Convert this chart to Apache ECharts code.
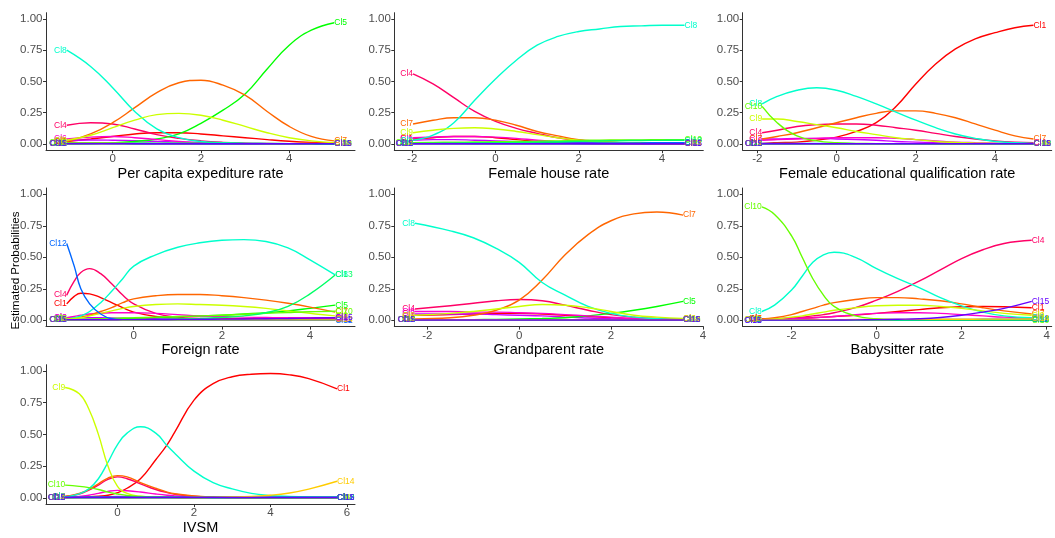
<!DOCTYPE html>
<html><head><meta charset="utf-8">
<script src="https://cdn.jsdelivr.net/npm/echarts@6/dist/echarts.min.js"></script>
<style>html,body{margin:0;padding:0;background:#fff}#c{width:1055px;height:538px}</style>
</head><body><div id="c"></div>
<script>
// ---------- DATA ----------
const classNames = ['Cl1','Cl2','Cl3','Cl4','Cl5','Cl6','Cl7','Cl8','Cl9','Cl10','Cl11','Cl12','Cl13','Cl14','Cl15'];
const panelTitles = ['Per capita expediture rate','Female house rate','Female educational qualification rate','Foreign rate','Grandparent rate','Babysitter rate','IVSM'];
const yTickValues = [0, 0.25, 0.5, 0.75, 1];
const xTicksExpenditure = [0, 2, 4];
const xTicksHouse = [-2, 0, 2, 4];
const xTicksEducation = [-2, 0, 2, 4];
const xTicksForeign = [0, 2, 4];
const xTicksGrandparent = [-2, 0, 2, 4];
const xTicksBabysitter = [-2, 0, 2, 4];
const xTicksIvsm = [0, 2, 4, 6];

// Panel 1: Per capita expenditure rate (rows Cl1..Cl15)
const expenditureX = [-1.04, -0.5, 0, 0.5, 1, 1.5, 2, 2.5, 3, 3.5, 4, 4.5, 5.02];
const expenditureProb = [
  [0.02, 0.04, 0.06, 0.08, 0.09, 0.09, 0.08, 0.065, 0.05, 0.035, 0.022, 0.013, 0.008],
  [0.006, 0.005, 0.005, 0.004, 0.004, 0.003, 0.003, 0.002, 0.002, 0.002, 0.001, 0.001, 0.001],
  [0.03, 0.032, 0.03, 0.026, 0.02, 0.015, 0.01, 0.007, 0.005, 0.003, 0.002, 0.001, 0.001],
  [0.15, 0.17, 0.16, 0.12, 0.075, 0.045, 0.025, 0.013, 0.007, 0.004, 0.002, 0.001, 0.001],
  [0.001, 0.004, 0.01, 0.02, 0.04, 0.08, 0.165, 0.27, 0.40, 0.60, 0.79, 0.91, 0.97],
  [0.04, 0.055, 0.06, 0.05, 0.035, 0.02, 0.01, 0.006, 0.003, 0.002, 0.001, 0.001, 0.001],
  [0.02, 0.08, 0.17, 0.29, 0.41, 0.49, 0.51, 0.47, 0.39, 0.26, 0.14, 0.06, 0.025],
  [0.75, 0.62, 0.45, 0.26, 0.12, 0.05, 0.02, 0.01, 0.005, 0.003, 0.002, 0.001, 0.001],
  [0.03, 0.07, 0.13, 0.19, 0.235, 0.245, 0.23, 0.19, 0.14, 0.09, 0.05, 0.025, 0.01],
  [0.01, 0.01, 0.008, 0.006, 0.005, 0.004, 0.003, 0.003, 0.002, 0.002, 0.002, 0.002, 0.002],
  [0.003, 0.003, 0.003, 0.002, 0.002, 0.002, 0.002, 0.001, 0.001, 0.001, 0.001, 0.001, 0.001],
  [0.005, 0.005, 0.004, 0.004, 0.003, 0.003, 0.002, 0.002, 0.002, 0.001, 0.001, 0.001, 0.001],
  [0.002, 0.002, 0.003, 0.004, 0.005, 0.006, 0.006, 0.006, 0.005, 0.004, 0.003, 0.002, 0.002],
  [0.004, 0.004, 0.004, 0.003, 0.003, 0.003, 0.003, 0.003, 0.003, 0.003, 0.003, 0.004, 0.005],
  [0.002, 0.002, 0.002, 0.002, 0.002, 0.002, 0.002, 0.002, 0.002, 0.002, 0.002, 0.002, 0.002]
];

// Panel 2: Female house rate
const houseX = [-1.98, -1.5, -1, -0.5, 0, 0.5, 1, 1.5, 2, 2.5, 3, 3.5, 4, 4.54];
const houseProb = [
  [0.04, 0.05, 0.06, 0.06, 0.05, 0.035, 0.02, 0.012, 0.007, 0.004, 0.003, 0.002, 0.001, 0.001],
  [0.005, 0.005, 0.005, 0.004, 0.004, 0.003, 0.003, 0.003, 0.002, 0.002, 0.002, 0.002, 0.002, 0.002],
  [0.03, 0.035, 0.035, 0.03, 0.025, 0.018, 0.012, 0.008, 0.005, 0.003, 0.002, 0.002, 0.001, 0.001],
  [0.56, 0.48, 0.37, 0.26, 0.18, 0.125, 0.085, 0.05, 0.03, 0.018, 0.01, 0.006, 0.004, 0.003],
  [0.01, 0.01, 0.01, 0.01, 0.01, 0.01, 0.01, 0.01, 0.01, 0.01, 0.01, 0.01, 0.01, 0.01],
  [0.05, 0.055, 0.06, 0.06, 0.055, 0.045, 0.03, 0.02, 0.012, 0.007, 0.004, 0.003, 0.002, 0.001],
  [0.16, 0.19, 0.21, 0.21, 0.19, 0.15, 0.10, 0.065, 0.035, 0.02, 0.01, 0.006, 0.004, 0.003],
  [0.03, 0.07, 0.17, 0.35, 0.52, 0.67, 0.79, 0.86, 0.90, 0.92, 0.94, 0.945, 0.95, 0.95],
  [0.09, 0.11, 0.125, 0.13, 0.12, 0.10, 0.075, 0.05, 0.03, 0.018, 0.01, 0.006, 0.004, 0.003],
  [0.01, 0.012, 0.014, 0.016, 0.018, 0.02, 0.022, 0.025, 0.028, 0.03, 0.032, 0.033, 0.034, 0.035],
  [0.002, 0.002, 0.002, 0.002, 0.002, 0.002, 0.002, 0.002, 0.002, 0.002, 0.002, 0.002, 0.002, 0.002],
  [0.003, 0.003, 0.004, 0.004, 0.005, 0.005, 0.006, 0.007, 0.008, 0.008, 0.009, 0.009, 0.01, 0.01],
  [0.005, 0.006, 0.007, 0.008, 0.01, 0.012, 0.015, 0.018, 0.021, 0.024, 0.026, 0.028, 0.029, 0.03],
  [0.003, 0.003, 0.003, 0.003, 0.003, 0.003, 0.003, 0.003, 0.003, 0.003, 0.003, 0.003, 0.003, 0.003],
  [0.002, 0.002, 0.002, 0.002, 0.002, 0.002, 0.002, 0.002, 0.002, 0.002, 0.002, 0.002, 0.002, 0.002]
];

// Panel 3: Female educational qualification rate
const educationX = [-1.88, -1.5, -1, -0.5, 0, 0.5, 1, 1.5, 2, 2.5, 3, 3.5, 4, 4.5, 4.97];
const educationProb = [
  [0.005, 0.01, 0.015, 0.03, 0.055, 0.10, 0.17, 0.30, 0.48, 0.64, 0.76, 0.84, 0.89, 0.93, 0.95],
  [0.004, 0.004, 0.004, 0.004, 0.004, 0.003, 0.003, 0.003, 0.003, 0.002, 0.002, 0.002, 0.002, 0.002, 0.002],
  [0.04, 0.04, 0.045, 0.045, 0.04, 0.035, 0.03, 0.02, 0.015, 0.01, 0.006, 0.004, 0.002, 0.001, 0.001],
  [0.09, 0.11, 0.14, 0.155, 0.16, 0.16, 0.15, 0.13, 0.11, 0.085, 0.06, 0.04, 0.025, 0.015, 0.01],
  [0.003, 0.003, 0.003, 0.003, 0.003, 0.003, 0.003, 0.003, 0.003, 0.003, 0.003, 0.003, 0.003, 0.003, 0.003],
  [0.03, 0.035, 0.04, 0.045, 0.05, 0.05, 0.05, 0.045, 0.035, 0.025, 0.015, 0.01, 0.006, 0.003, 0.002],
  [0.04, 0.06, 0.09, 0.13, 0.17, 0.21, 0.245, 0.265, 0.265, 0.245, 0.21, 0.16, 0.11, 0.065, 0.04],
  [0.32, 0.38, 0.43, 0.45, 0.43, 0.38, 0.32, 0.255, 0.19, 0.13, 0.08, 0.045, 0.02, 0.01, 0.005],
  [0.20, 0.20, 0.18, 0.155, 0.13, 0.10, 0.075, 0.05, 0.035, 0.02, 0.012, 0.007, 0.004, 0.002, 0.001],
  [0.30, 0.17, 0.065, 0.025, 0.01, 0.005, 0.002, 0.001, 0.001, 0.001, 0.001, 0.001, 0.001, 0.001, 0.001],
  [0.002, 0.002, 0.002, 0.002, 0.002, 0.002, 0.002, 0.002, 0.002, 0.002, 0.002, 0.002, 0.002, 0.002, 0.002],
  [0.003, 0.003, 0.003, 0.003, 0.003, 0.003, 0.003, 0.003, 0.003, 0.003, 0.003, 0.003, 0.003, 0.003, 0.003],
  [0.002, 0.002, 0.002, 0.002, 0.002, 0.002, 0.002, 0.002, 0.002, 0.002, 0.002, 0.002, 0.002, 0.002, 0.002],
  [0.003, 0.003, 0.003, 0.003, 0.003, 0.003, 0.003, 0.003, 0.003, 0.003, 0.003, 0.003, 0.003, 0.003, 0.003],
  [0.002, 0.002, 0.002, 0.002, 0.002, 0.002, 0.002, 0.002, 0.002, 0.002, 0.002, 0.002, 0.002, 0.002, 0.002]
];

// Panel 4: Foreign rate
const foreignX = [-1.52, -1.35, -1.2, -1, -0.75, -0.5, -0.25, 0, 0.5, 1, 1.5, 2, 2.5, 3, 3.5, 4, 4.57];
const foreignProb = [
  [0.13, 0.19, 0.215, 0.21, 0.18, 0.14, 0.10, 0.065, 0.03, 0.015, 0.01, 0.007, 0.006, 0.005, 0.005, 0.005, 0.005],
  [0.004, 0.004, 0.004, 0.004, 0.004, 0.004, 0.004, 0.004, 0.004, 0.004, 0.004, 0.004, 0.004, 0.004, 0.004, 0.004, 0.004],
  [0.02, 0.02, 0.02, 0.02, 0.02, 0.018, 0.016, 0.014, 0.012, 0.01, 0.009, 0.008, 0.008, 0.008, 0.008, 0.008, 0.008],
  [0.20, 0.31, 0.38, 0.41, 0.37, 0.29, 0.20, 0.13, 0.055, 0.025, 0.015, 0.012, 0.012, 0.012, 0.012, 0.012, 0.012],
  [0.005, 0.006, 0.007, 0.008, 0.01, 0.012, 0.014, 0.017, 0.022, 0.028, 0.034, 0.04, 0.05, 0.06, 0.075, 0.095, 0.12],
  [0.02, 0.03, 0.04, 0.05, 0.055, 0.06, 0.06, 0.06, 0.055, 0.045, 0.035, 0.03, 0.025, 0.022, 0.02, 0.02, 0.02],
  [0.01, 0.015, 0.025, 0.04, 0.07, 0.10, 0.14, 0.17, 0.195, 0.205, 0.205, 0.195, 0.18, 0.16, 0.135, 0.105, 0.065],
  [0.01, 0.02, 0.035, 0.07, 0.14, 0.23, 0.33, 0.43, 0.52, 0.58, 0.615, 0.635, 0.64, 0.625, 0.575, 0.48, 0.36],
  [0.01, 0.015, 0.02, 0.035, 0.055, 0.075, 0.095, 0.11, 0.125, 0.13, 0.125, 0.12, 0.11, 0.095, 0.075, 0.055, 0.035],
  [0.005, 0.006, 0.007, 0.009, 0.012, 0.015, 0.018, 0.02, 0.025, 0.03, 0.035, 0.04, 0.048, 0.055, 0.062, 0.068, 0.072],
  [0.005, 0.005, 0.005, 0.005, 0.005, 0.005, 0.005, 0.005, 0.005, 0.005, 0.005, 0.005, 0.005, 0.005, 0.005, 0.005, 0.005],
  [0.61, 0.43, 0.25, 0.13, 0.05, 0.012, 0.005, 0.003, 0.002, 0.001, 0.001, 0.001, 0.001, 0.001, 0.001, 0.001, 0.001],
  [0.002, 0.002, 0.002, 0.002, 0.002, 0.003, 0.003, 0.004, 0.006, 0.01, 0.015, 0.022, 0.035, 0.06, 0.11, 0.21, 0.36],
  [0.003, 0.003, 0.003, 0.003, 0.003, 0.003, 0.003, 0.003, 0.003, 0.003, 0.003, 0.003, 0.003, 0.003, 0.003, 0.003, 0.003],
  [0.004, 0.004, 0.004, 0.004, 0.004, 0.004, 0.005, 0.005, 0.006, 0.007, 0.008, 0.009, 0.01, 0.012, 0.014, 0.017, 0.02]
];

// Panel 5: Grandparent rate
const grandparentX = [-2.27, -1.5, -1, -0.5, 0, 0.5, 1, 1.5, 2, 2.5, 3, 3.57];
const grandparentProb = [
  [0.04, 0.045, 0.05, 0.055, 0.055, 0.05, 0.04, 0.03, 0.02, 0.012, 0.008, 0.005],
  [0.004, 0.004, 0.004, 0.004, 0.004, 0.004, 0.004, 0.004, 0.004, 0.004, 0.004, 0.004],
  [0.05, 0.05, 0.05, 0.045, 0.04, 0.035, 0.025, 0.018, 0.012, 0.008, 0.005, 0.003],
  [0.09, 0.115, 0.135, 0.155, 0.165, 0.155, 0.12, 0.08, 0.045, 0.025, 0.015, 0.01],
  [0.003, 0.004, 0.005, 0.007, 0.01, 0.014, 0.02, 0.035, 0.055, 0.08, 0.11, 0.15],
  [0.07, 0.07, 0.065, 0.065, 0.06, 0.055, 0.045, 0.035, 0.025, 0.015, 0.01, 0.006],
  [0.01, 0.02, 0.04, 0.08, 0.16, 0.32, 0.52, 0.68, 0.79, 0.845, 0.86, 0.835],
  [0.77, 0.71, 0.655, 0.57, 0.46, 0.30, 0.20, 0.11, 0.055, 0.025, 0.012, 0.006],
  [0.04, 0.055, 0.07, 0.09, 0.11, 0.125, 0.12, 0.10, 0.07, 0.04, 0.025, 0.015],
  [0.003, 0.003, 0.003, 0.003, 0.003, 0.003, 0.003, 0.003, 0.003, 0.003, 0.003, 0.003],
  [0.002, 0.002, 0.002, 0.002, 0.002, 0.002, 0.002, 0.002, 0.002, 0.002, 0.002, 0.002],
  [0.003, 0.003, 0.003, 0.003, 0.003, 0.003, 0.003, 0.003, 0.003, 0.003, 0.003, 0.003],
  [0.002, 0.002, 0.002, 0.002, 0.002, 0.002, 0.002, 0.002, 0.002, 0.002, 0.002, 0.002],
  [0.004, 0.004, 0.004, 0.004, 0.004, 0.004, 0.004, 0.004, 0.004, 0.004, 0.004, 0.004],
  [0.002, 0.002, 0.002, 0.002, 0.002, 0.002, 0.002, 0.002, 0.002, 0.002, 0.002, 0.002]
];

// Panel 6: Babysitter rate
const babysitterX = [-2.7, -2.4, -2, -1.75, -1.5, -1.25, -1, -0.5, 0, 0.5, 1, 1.5, 2, 2.5, 3, 3.65];
const babysitterProb = [
  [0.01, 0.012, 0.015, 0.018, 0.02, 0.025, 0.03, 0.04, 0.055, 0.07, 0.085, 0.10, 0.108, 0.11, 0.108, 0.10],
  [0.003, 0.003, 0.003, 0.003, 0.003, 0.003, 0.003, 0.003, 0.003, 0.003, 0.003, 0.003, 0.003, 0.003, 0.003, 0.003],
  [0.004, 0.004, 0.004, 0.004, 0.004, 0.004, 0.004, 0.004, 0.004, 0.004, 0.004, 0.004, 0.004, 0.004, 0.004, 0.004],
  [0.01, 0.012, 0.02, 0.025, 0.035, 0.045, 0.06, 0.10, 0.16, 0.23, 0.31, 0.40, 0.49, 0.56, 0.61, 0.635],
  [0.002, 0.002, 0.002, 0.002, 0.002, 0.002, 0.002, 0.002, 0.002, 0.002, 0.002, 0.002, 0.002, 0.002, 0.002, 0.002],
  [0.005, 0.008, 0.012, 0.016, 0.02, 0.025, 0.03, 0.045, 0.055, 0.06, 0.06, 0.055, 0.045, 0.035, 0.025, 0.02],
  [0.01, 0.02, 0.045, 0.07, 0.095, 0.12, 0.14, 0.165, 0.18, 0.18, 0.17, 0.155, 0.13, 0.10, 0.075, 0.05],
  [0.07, 0.12, 0.24, 0.35, 0.46, 0.52, 0.54, 0.50, 0.41, 0.33, 0.26, 0.18, 0.115, 0.065, 0.035, 0.02],
  [0.005, 0.01, 0.025, 0.035, 0.05, 0.065, 0.08, 0.10, 0.115, 0.12, 0.12, 0.11, 0.095, 0.075, 0.055, 0.04],
  [0.90, 0.84, 0.67, 0.50, 0.33, 0.20, 0.11, 0.035, 0.012, 0.005, 0.002, 0.001, 0.001, 0.001, 0.001, 0.001],
  [0.002, 0.002, 0.002, 0.002, 0.002, 0.002, 0.002, 0.002, 0.002, 0.002, 0.002, 0.002, 0.002, 0.002, 0.002, 0.002],
  [0.001, 0.001, 0.001, 0.001, 0.001, 0.001, 0.002, 0.002, 0.003, 0.004, 0.005, 0.006, 0.007, 0.008, 0.009, 0.01],
  [0.002, 0.002, 0.002, 0.002, 0.002, 0.002, 0.002, 0.002, 0.002, 0.002, 0.002, 0.002, 0.002, 0.002, 0.002, 0.002],
  [0.005, 0.005, 0.005, 0.005, 0.005, 0.005, 0.005, 0.006, 0.006, 0.007, 0.007, 0.008, 0.008, 0.009, 0.009, 0.01],
  [0.001, 0.001, 0.001, 0.001, 0.001, 0.001, 0.002, 0.003, 0.005, 0.008, 0.012, 0.022, 0.04, 0.065, 0.095, 0.15]
];

// Panel 7: IVSM
const ivsmX = [-1.37, -1, -0.75, -0.5, -0.25, 0, 0.25, 0.6, 1, 1.3, 1.5, 2, 2.5, 3, 3.5, 4, 4.5, 5, 5.74];
const ivsmProb = [
  [0.002, 0.005, 0.007, 0.012, 0.02, 0.04, 0.075, 0.15, 0.30, 0.42, 0.52, 0.77, 0.90, 0.955, 0.975, 0.98, 0.97, 0.94, 0.86],
  [0.002, 0.002, 0.002, 0.002, 0.002, 0.002, 0.002, 0.002, 0.002, 0.002, 0.002, 0.002, 0.002, 0.002, 0.002, 0.002, 0.002, 0.002, 0.002],
  [0.003, 0.004, 0.005, 0.007, 0.009, 0.01, 0.009, 0.007, 0.005, 0.004, 0.003, 0.002, 0.002, 0.002, 0.002, 0.002, 0.002, 0.002, 0.002],
  [0.01, 0.03, 0.06, 0.10, 0.145, 0.165, 0.15, 0.11, 0.065, 0.04, 0.028, 0.012, 0.005, 0.002, 0.001, 0.001, 0.001, 0.001, 0.001],
  [0.002, 0.002, 0.002, 0.002, 0.002, 0.002, 0.002, 0.002, 0.002, 0.002, 0.002, 0.002, 0.002, 0.002, 0.002, 0.002, 0.002, 0.002, 0.002],
  [0.005, 0.01, 0.02, 0.035, 0.05, 0.058, 0.055, 0.045, 0.03, 0.02, 0.015, 0.007, 0.003, 0.002, 0.001, 0.001, 0.001, 0.001, 0.001],
  [0.01, 0.035, 0.065, 0.11, 0.155, 0.175, 0.165, 0.12, 0.075, 0.045, 0.032, 0.014, 0.006, 0.003, 0.002, 0.001, 0.001, 0.001, 0.001],
  [0.005, 0.03, 0.07, 0.15, 0.28, 0.42, 0.51, 0.56, 0.51, 0.41, 0.35, 0.21, 0.12, 0.07, 0.035, 0.018, 0.01, 0.006, 0.004],
  [0.87, 0.82, 0.70, 0.50, 0.25, 0.09, 0.035, 0.012, 0.005, 0.003, 0.002, 0.001, 0.001, 0.001, 0.001, 0.001, 0.001, 0.001, 0.001],
  [0.10, 0.09, 0.08, 0.065, 0.045, 0.03, 0.018, 0.01, 0.005, 0.003, 0.002, 0.001, 0.001, 0.001, 0.001, 0.001, 0.001, 0.001, 0.001],
  [0.002, 0.002, 0.002, 0.002, 0.002, 0.002, 0.002, 0.002, 0.002, 0.002, 0.002, 0.002, 0.002, 0.002, 0.002, 0.002, 0.002, 0.002, 0.002],
  [0.003, 0.003, 0.003, 0.003, 0.003, 0.003, 0.003, 0.003, 0.003, 0.003, 0.003, 0.003, 0.003, 0.003, 0.003, 0.003, 0.003, 0.003, 0.003],
  [0.002, 0.002, 0.002, 0.002, 0.002, 0.002, 0.002, 0.002, 0.002, 0.002, 0.002, 0.002, 0.002, 0.002, 0.002, 0.002, 0.002, 0.002, 0.002],
  [0.001, 0.001, 0.001, 0.001, 0.001, 0.001, 0.001, 0.001, 0.001, 0.001, 0.001, 0.002, 0.003, 0.006, 0.011, 0.02, 0.038, 0.068, 0.13],
  [0.002, 0.002, 0.002, 0.002, 0.002, 0.002, 0.002, 0.002, 0.002, 0.002, 0.002, 0.002, 0.002, 0.002, 0.002, 0.002, 0.002, 0.002, 0.002]
];

// ---------- STYLE / LAYOUT ----------
const classColors = ['#FF0000','#00CCFF','#CC00FF','#FF0066','#00FF00','#FF00CC','#FF6600','#00FFCC','#CCFF00','#66FF00','#0000FF','#0066FF','#00FF66','#FFCC00','#6600FF'];
const FONT = '"Liberation Sans", Arial, sans-serif';
const panels = [
  {xs: expenditureX, ys: expenditureProb, ticks: xTicksExpenditure, left: 46,    top: 12.7, h: 137.5, xmin: -1.51, xmax: 5.49},
  {xs: houseX,       ys: houseProb,       ticks: xTicksHouse,       left: 394.3, top: 12.7, h: 137.5, xmin: -2.43, xmax: 4.99},
  {xs: educationX,   ys: educationProb,   ticks: xTicksEducation,   left: 742.7, top: 12.7, h: 137.5, xmin: -2.37, xmax: 5.43},
  {xs: foreignX,     ys: foreignProb,     ticks: xTicksForeign,     left: 46,    top: 188,  h: 138.6, xmin: -1.99, xmax: 5.02},
  {xs: grandparentX, ys: grandparentProb, ticks: xTicksGrandparent, left: 394.3, top: 188,  h: 138.6, xmin: -2.72, xmax: 4.01},
  {xs: babysitterX,  ys: babysitterProb,  ticks: xTicksBabysitter,  left: 742.7, top: 188,  h: 138.6, xmin: -3.15, xmax: 4.12},
  {xs: ivsmX,        ys: ivsmProb,        ticks: xTicksIvsm,        left: 46,    top: 364.7,h: 139.4, xmin: -1.87, xmax: 6.21}
];
const PW = 309;

const grids = [], xAxes = [], yAxes = [], series = [];
panels.forEach((p, pi) => {
  grids.push({left: p.left, top: p.top, width: PW, height: p.h, containLabel: false, outerBoundsMode: 'none'});
  const axisLine = {show: true, onZero: false, lineStyle: {color: '#333333', width: 1}};
  xAxes.push({
    gridIndex: pi, type: 'value', min: p.xmin, max: p.xmax,
    name: panelTitles[pi], nameLocation: 'middle', nameGap: 15,
    nameTextStyle: {color: '#000', fontSize: 14.5, fontFamily: FONT},
    axisLine: axisLine,
    axisTick: {show: true, length: 3, lineStyle: {color: '#333333'}, customValues: p.ticks},
    axisLabel: {customValues: p.ticks, color: '#4D4D4D', fontSize: 11.5, fontFamily: FONT, margin: 3},
    splitLine: {show: false}
  });
  yAxes.push({
    gridIndex: pi, type: 'value', min: -0.05, max: 1.05,
    axisLine: axisLine,
    axisTick: {show: true, length: 3, lineStyle: {color: '#333333'}, customValues: yTickValues},
    axisLabel: {customValues: yTickValues, color: '#4D4D4D', fontSize: 11.5, fontFamily: FONT, margin: 3.5,
      formatter: v => Number(v).toFixed(2)},
    splitLine: {show: false}
  });
  p.ys.forEach((row, ci) => {
    const color = classColors[ci];
    const name = classNames[ci];
    const lab = (pos) => ({show: true, position: pos, distance: 0, formatter: name, color: color,
      fontSize: 8.5, fontFamily: FONT});
    series.push({
      type: 'line', name: name, xAxisIndex: pi, yAxisIndex: pi,
      smooth: 0.45, symbol: 'circle', symbolSize: 0, showSymbol: true, showAllSymbol: true,
      lineStyle: {color: color, width: 1.4}, itemStyle: {color: color},
      label: {show: false}, silent: true, animation: false, z: 2 + ci * 0.01,
      data: row.map((y, i) => {
        const item = {value: [p.xs[i], y]};
        if (i === 0) item.label = lab('left');
        if (i === row.length - 1) item.label = lab('right');
        return item;
      })
    });
  });
});

const chart = echarts.init(document.getElementById('c'), null, {renderer: 'canvas'});
chart.setOption({
  backgroundColor: '#fff',
  animation: false,
  grid: grids, xAxis: xAxes, yAxis: yAxes, series: series,
  graphic: [{
    type: 'text', x: 15.5, y: 270.5, rotation: Math.PI / 2,
    style: {text: 'Estimated Probabilities', fontSize: 11.6, fontFamily: FONT, fill: '#000',
      textAlign: 'center', textVerticalAlign: 'middle'}
  }]
});
</script>
</body></html>
